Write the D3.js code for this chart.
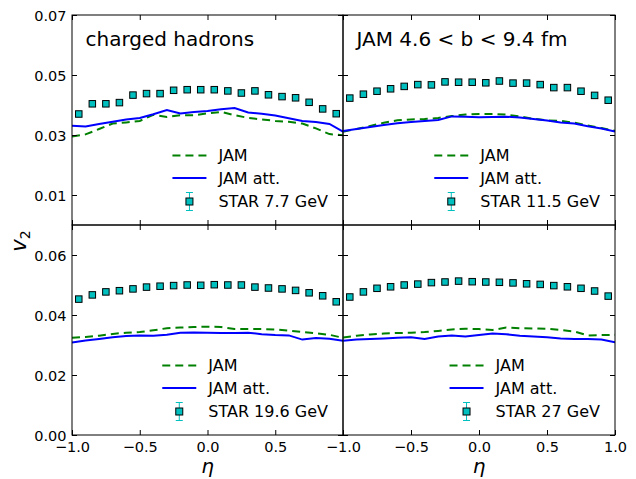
<!DOCTYPE html>
<html><head><meta charset="utf-8">
<script src="https://cdn.jsdelivr.net/npm/d3@7"></script>
<style>
body{margin:0;background:#fff}
svg text{font-family:"DejaVu Sans",sans-serif;fill:#000}
</style>
</head><body>
<svg id="chart" width="636" height="479"></svg>
<script>
// ---------- data ----------
const etaStar = [-0.95,-0.85,-0.75,-0.65,-0.55,-0.45,-0.35,-0.25,-0.15,-0.05,0.05,0.15,0.25,0.35,0.45,0.55,0.65,0.75,0.85,0.95];
const etaJam  = [-1.0,-0.9,-0.8,-0.7,-0.6,-0.5,-0.4,-0.3,-0.2,-0.1,0.0,0.1,0.2,0.3,0.4,0.5,0.6,0.7,0.8,0.9,1.0];

const star77  = [0.0370,0.0404,0.0404,0.0408,0.0433,0.0438,0.0438,0.0449,0.0451,0.0451,0.0451,0.0447,0.0440,0.0447,0.0434,0.0428,0.0424,0.0409,0.0387,0.0371];
const star115 = [0.0423,0.0436,0.0446,0.0454,0.0462,0.0468,0.0467,0.0477,0.0476,0.0476,0.0474,0.0480,0.0473,0.0473,0.0468,0.0458,0.0458,0.0446,0.0432,0.0416];
const star196 = [0.0453,0.0467,0.0477,0.0481,0.0487,0.0493,0.0496,0.0498,0.0500,0.0499,0.0501,0.0500,0.0500,0.0493,0.0490,0.0487,0.0482,0.0474,0.0464,0.0444];
const star27  = [0.0460,0.0477,0.0489,0.0494,0.0500,0.0503,0.0508,0.0510,0.0513,0.0511,0.0510,0.0509,0.0507,0.0504,0.0502,0.0498,0.0494,0.0489,0.0480,0.0463];

const jam77  = [0.0295,0.0302,0.0320,0.0338,0.0342,0.0347,0.0367,0.0360,0.0366,0.0366,0.0372,0.0377,0.0366,0.0357,0.0352,0.0347,0.0344,0.0338,0.0322,0.0303,0.0299];
const jam115 = [0.0311,0.0320,0.0330,0.0341,0.0349,0.0352,0.0353,0.0357,0.0363,0.0368,0.0370,0.0370,0.0368,0.0362,0.0354,0.0349,0.0347,0.0341,0.0332,0.0323,0.0314];
const jam196 = [0.0324,0.0327,0.0331,0.0337,0.0341,0.0343,0.0349,0.0356,0.0358,0.0360,0.0361,0.0360,0.0353,0.0353,0.0353,0.0352,0.0348,0.0343,0.0339,0.0334,0.0324];
const jam27  = [0.0325,0.0331,0.0335,0.0338,0.0340,0.0341,0.0343,0.0347,0.0352,0.0354,0.0353,0.0350,0.0358,0.0356,0.0355,0.0354,0.0350,0.0345,0.0332,0.0333,0.0334];

const att77  = [0.0331,0.0328,0.0337,0.0344,0.0352,0.0357,0.0369,0.0383,0.0372,0.0377,0.0380,0.0386,0.0390,0.0375,0.0371,0.0365,0.0356,0.0347,0.0343,0.0337,0.0311];
const att115 = [0.0313,0.0320,0.0327,0.0333,0.0339,0.0343,0.0347,0.0350,0.0362,0.0361,0.0359,0.0360,0.0361,0.0358,0.0353,0.0348,0.0342,0.0338,0.0329,0.0322,0.0312];
const att196 = [0.0308,0.0315,0.0320,0.0326,0.0330,0.0332,0.0331,0.0334,0.0341,0.0342,0.0341,0.0340,0.0340,0.0341,0.0336,0.0333,0.0332,0.0318,0.0323,0.0321,0.0314];
const att27  = [0.0314,0.0318,0.0320,0.0322,0.0324,0.0326,0.0320,0.0328,0.0332,0.0328,0.0333,0.0338,0.0336,0.0331,0.0328,0.0326,0.0322,0.0320,0.0320,0.0318,0.0309];

const starLabels = ["STAR 7.7 GeV","STAR 11.5 GeV","STAR 19.6 GeV","STAR 27 GeV"];
const seriesLabels = ["JAM","JAM att."];
const panelTitles = ["charged hadrons","JAM 4.6 < b < 9.4 fm","",""];
const xTicks = [-1.0,-0.5,0.0,0.5,1.0];
const yTicksTop = [0.01,0.03,0.05,0.07];
const yTicksBottom = [0.00,0.02,0.04,0.06];
const xLabel = "η";

// ---------- layout ----------
const svg = d3.select("#chart");
const colX = [72, 343, 615];
const rowY = [15, 225, 435];
const TICK = 5;
const GREEN = "#008000", BLUE = "#0000ff", CYAN = "#00bfbf";

const panels = [
  {c:0,r:0,star:star77, jam:jam77, att:att77, yt:yTicksTop},
  {c:1,r:0,star:star115,jam:jam115,att:att115,yt:yTicksTop},
  {c:0,r:1,star:star196,jam:jam196,att:att196,yt:yTicksBottom},
  {c:1,r:1,star:star27, jam:jam27, att:att27, yt:yTicksBottom}
];

panels.forEach((p,i)=>{
  const x0 = colX[p.c], x1 = colX[p.c+1];
  const y0 = rowY[p.r], y1 = rowY[p.r+1];
  const x = d3.scaleLinear().domain([-1,1]).range([x0,x1]);
  const y = d3.scaleLinear().domain([0,0.07]).range([y1,y0]);
  const g = svg.append("g");

  const cid = "clip"+i;
  svg.append("clipPath").attr("id",cid).append("rect")
    .attr("x",x0).attr("y",y0).attr("width",x1-x0).attr("height",y1-y0);

  const line = d3.line().x((d,k)=>x(etaJam[k])).y(d=>y(d));
  g.append("path").datum(p.jam).attr("d",line).attr("clip-path",`url(#${cid})`)
    .attr("fill","none").attr("stroke",GREEN).attr("stroke-width",2).attr("stroke-dasharray","8,5");
  g.append("path").datum(p.att).attr("d",line).attr("clip-path",`url(#${cid})`)
    .attr("fill","none").attr("stroke",BLUE).attr("stroke-width",2);

  const ms = 6.5;
  g.selectAll("rect.m").data(p.star).join("rect").attr("class","m")
    .attr("x",(d,k)=>x(etaStar[k])-ms/2).attr("y",d=>y(d)-ms/2)
    .attr("width",ms).attr("height",ms)
    .attr("fill",CYAN).attr("stroke","#000").attr("stroke-width",1);

  // axes (ticks inward on all sides)
  const fx = d3.format(".1f"), fy = d3.format(".2f");
  // the left panel's last label is hidden under the right panel's first one
  const fxPanel = (d)=> (p.c===0 && d===1) ? "" : fx(d);
  const ab = g.append("g").attr("transform",`translate(0,${y1})`)
    .call(d3.axisBottom(x).tickValues(xTicks).tickSize(-TICK).tickPadding(6.5)
      .tickFormat(p.r===1 ? fxPanel : ()=>""));
  const at = g.append("g").attr("transform",`translate(0,${y0})`)
    .call(d3.axisTop(x).tickValues(xTicks).tickSize(-TICK).tickFormat(()=>""));
  const al = g.append("g").attr("transform",`translate(${x0},0)`)
    .call(d3.axisLeft(y).tickValues(p.yt).tickSize(-TICK).tickPadding(5.5)
      .tickFormat(p.c===0 ? fy : ()=>""));
  const ar = g.append("g").attr("transform",`translate(${x1},0)`)
    .call(d3.axisRight(y).tickValues(p.yt).tickSize(-TICK).tickFormat(()=>""));
  [ab,at,al,ar].forEach(a=>{
    a.select(".domain").remove();
    a.selectAll("line").attr("stroke","#000");
    a.selectAll("text").attr("font-family","DejaVu Sans").attr("font-size","14.5px").attr("fill","#000");
  });
  al.selectAll("text").attr("dy","0.36em");

  g.append("rect").attr("x",x0).attr("y",y0).attr("width",x1-x0).attr("height",y1-y0)
    .attr("fill","none").attr("stroke","#000").attr("stroke-width",1);

  if (panelTitles[i]) {
    g.append("text").attr("x",x0+13.5).attr("y",y0+30.5).attr("font-size","20px").text(panelTitles[i]);
  }

  // legend (lower right, no frame)
  const labels = [seriesLabels[0],seriesLabels[1],starLabels[i]];
  const lg = g.append("g");
  const texts = lg.selectAll("text").data(labels).join("text")
    .attr("font-size","16px").text(d=>d);
  let maxW = 0;
  texts.each(function(){ maxW = Math.max(maxW,this.getComputedTextLength()); });
  const tx = x1 - 15 - maxW;
  const rows = [y1-69.5, y1-47, y1-23.5];
  texts.attr("x",tx).attr("y",(d,k)=>rows[k]).attr("dy","0.36em");
  lg.append("line").attr("x1",tx-46).attr("x2",tx-12).attr("y1",rows[0]).attr("y2",rows[0])
    .attr("stroke",GREEN).attr("stroke-width",2).attr("stroke-dasharray","8,5");
  lg.append("line").attr("x1",tx-46).attr("x2",tx-12).attr("y1",rows[1]).attr("y2",rows[1])
    .attr("stroke",BLUE).attr("stroke-width",2);
  const mx = tx-29, my = rows[2];
  lg.append("line").attr("x1",mx).attr("x2",mx).attr("y1",my-9).attr("y2",my+9).attr("stroke",CYAN).attr("stroke-width",1);
  lg.append("line").attr("x1",mx-3.5).attr("x2",mx+3.5).attr("y1",my-9).attr("y2",my-9).attr("stroke",CYAN).attr("stroke-width",1);
  lg.append("line").attr("x1",mx-3.5).attr("x2",mx+3.5).attr("y1",my+9).attr("y2",my+9).attr("stroke",CYAN).attr("stroke-width",1);
  lg.append("rect").attr("x",mx-3.5).attr("y",my-3.5).attr("width",7).attr("height",7)
    .attr("fill",CYAN).attr("stroke","#000").attr("stroke-width",1);

  if (p.r===1) {
    g.append("text").attr("x",(x0+x1)/2).attr("y",473).attr("text-anchor","middle")
      .attr("font-family","DejaVu Serif").attr("font-style","italic").attr("font-size","20px").text(xLabel);
  }
});

// y label v_2
const yl = svg.append("text").attr("transform","translate(26,241) rotate(-90)")
  .attr("text-anchor","middle").attr("font-family","DejaVu Serif").attr("font-style","italic").attr("font-size","21px");
yl.append("tspan").text("v");
yl.append("tspan").attr("font-size","14px").attr("font-style","normal").attr("dy","4").text("2");
</script>
</body></html>
